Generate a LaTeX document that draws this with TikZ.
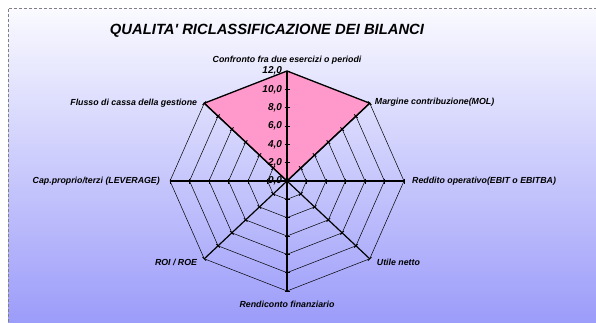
\documentclass[tikz,border=0pt]{standalone}
\usepackage{fontspec}
\setmainfont{Liberation Sans}
\usetikzlibrary{positioning}
\definecolor{bgtop}{RGB}{250,250,255}
\definecolor{bgbot}{RGB}{156,156,250}
\definecolor{datapink}{RGB}{255,153,204}
\begin{document}
\begin{tikzpicture}[x=1pt,y=-1pt,
        lbl/.style={font=\bfseries\itshape\fontsize{8.8}{10}\selectfont,inner sep=1pt},
        ticklbl/.style={font=\bfseries\itshape\fontsize{10}{11}\selectfont,inner sep=1pt,anchor=east},
        gridline/.style={black,line width=0.5pt},
        axisline/.style={black,line width=1.2pt},
        tickmark/.style={black,line width=0.8pt},
        datapoly/.style={fill=datapink,draw=black,line width=1.3pt,line join=miter}
    ]
    \useasboundingbox (0,0) rectangle (596,322);
    \shade[top color=bgtop,bottom color=bgbot] (8,8) rectangle (596,322);
    \draw[gray,densely dashed,line width=0.6pt] (8,322) -- (8,8) -- (596,8);
    \node[font=\bfseries\itshape\fontsize{14.8}{16}\selectfont] (title) at (267,31) {QUALITA\textquotesingle{} RICLASSIFICAZIONE DEI BILANCI};
    \begin{scope}[shift={(287,181)},x=9.75pt,y=9.1667pt]
        \coordinate (c) at (0,0);
        \foreach \r in {2,4,...,12}
            \draw[gridline] (0:\r) -- (45:\r) -- (90:\r) -- (135:\r) -- (180:\r) -- (225:\r) -- (270:\r) -- (315:\r) -- cycle;
        \filldraw[datapoly] (c) -- (45:12) -- (90:12) -- (135:12) -- cycle;
        \foreach \a/\n in {90/conf,45/marg,0/redd,-45/util,-90/rend,-135/roi,180/cap,135/flus} {
            \coordinate (\n) at (\a:12);
            \draw[axisline] (c) -- (\n);
            \foreach \r in {2,4,...,12}
                \draw[tickmark] ([shift={(\a:\r)}]\a+90:2.5pt) -- ([shift={(\a:\r)}]\a-90:2.5pt);
        }
        \foreach \v in {0,2,...,12}
            \node[ticklbl] (t\v) at (-0.4,\v) {\v,0};
    \end{scope}
    \node[lbl,above=5pt of conf] (lconf) {Confronto fra due esercizi o periodi};
    \node[lbl,right=4pt of marg,yshift=1pt] (lmarg) {Margine contribuzione(MOL)};
    \node[lbl,right=7pt of redd] (lredd) {Reddito operativo(EBIT o EBITBA)};
    \node[lbl,right=6pt of util,yshift=-4pt] (lutil) {Utile netto};
    \node[lbl,below=9pt of rend] (lrend) {Rendiconto finanziario};
    \node[lbl,left=6pt of roi,yshift=-4pt] (lroi) {ROI / ROE};
    \node[lbl,left=9pt of cap] (lcap) {Cap.proprio/terzi (LEVERAGE)};
    \node[lbl,left=6pt of flus] (lflus) {Flusso di cassa della gestione};
\end{tikzpicture}
\end{document}
